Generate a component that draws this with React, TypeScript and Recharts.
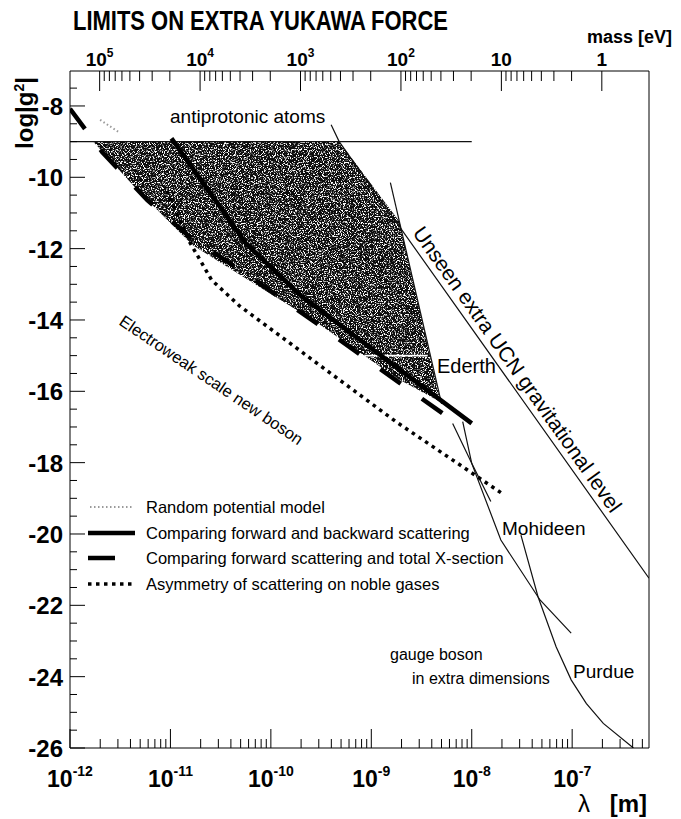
import React from 'react';
import { ScatterChart, Scatter, XAxis, YAxis } from 'recharts';

const FONT = '"Liberation Sans", Arial, Helvetica, sans-serif';

const CHART_W = 681;
const CHART_H = 819;

// x is log10(lambda / m), y is log|g^2|
const LAM_RANGE: [number, number] = [-12, -6.235];
const G_RANGE: [number, number] = [-26, -7.02];
const LG_HBARC = Math.log10(1.9733e-7); // hbar*c in eV*m, for the mass axis

const LAM_DECADES = [-12, -11, -10, -9, -8, -7];
const MASS_DECADES = [5, 4, 3, 2, 1, 0];
const G_STEP = 0.5;

// shaded "random potential model" region, outline
const randomLam = [-11.77, -9.32, -8.72, -8.31, -8.75, -9.55, -10.16, -10.78, -11.31];
const randomG = [-9.0, -9.0, -11.24, -16.3, -15.63, -14.06, -12.99, -11.9, -10.41];

// faint trace of the same model above the -9 line
const randomTraceLam = [-11.7, -11.5];
const randomTraceG = [-8.39, -8.76];

// comparing forward and backward scattering
const fwdBackLam = [-10.99, -10.25, -9.71, -8.0];
const fwdBackG = [-8.91, -11.85, -13.3, -16.9];

// comparing forward scattering and total X-section
const fwdTotalLam = [-12.0, -11.68, -11.23, -10.83, -10.16, -9.55, -8.69, -8.17];
const fwdTotalG = [-8.08, -9.29, -10.64, -11.62, -12.88, -14.08, -15.82, -16.86];

// asymmetry of scattering on noble gases
const nobleLam = [-11.04, -10.81, -10.59, -10.31, -8.75, -7.71];
const nobleG = [-10.38, -11.81, -12.88, -13.61, -16.86, -18.84];

const antiprotonicLam = [-12, -8.0];
const antiprotonicG = [-9, -9];

// unseen extra UCN level, starts at the leader of the antiprotonic label
const ucnLam = [-9.4, -9.32, -6.235];
const ucnG = [-8.53, -9.0, -21.24];

const edgeLam = [-8.81, -8.3];
const edgeG = [-10.15, -16.35];

const ederthLam = [-9.07, -8.44];
const ederthG = [-15.0, -15.0];

const mohideenLam = [-8.09, -8.0, -7.71, -7.32, -7.01];
const mohideenG = [-16.85, -18.02, -20.17, -21.85, -22.78];

const mohideenBLam = [-8.19, -8.0, -7.81];
const mohideenBG = [-16.9, -18.02, -19.09];

const purdueLam = [-7.51, -7.34, -7.16, -7.01, -6.86, -6.69, -6.39];
const purdueG = [-20.03, -21.76, -23.16, -24.09, -24.75, -25.31, -26.0];

const LEGEND = [
  'Random potential model',
  'Comparing forward and backward scattering',
  'Comparing forward scattering and total X-section',
  'Asymmetry of scattering on noble gases',
];
const LEGEND_Y = [507, 533, 558, 584];

const pts = (lam: number[], g: number[]) => lam.map((l, i) => ({ lam: l, g: g[i] }));

const isWhole = (v: number) => Math.abs(v - Math.round(v)) < 1e-6;

const lamTicks: number[] = [];
LAM_DECADES.forEach((d) => {
  for (let k = 1; k <= 9; k++) {
    const v = d + Math.log10(k);
    if (v <= LAM_RANGE[1]) lamTicks.push(v);
  }
});

const massTicks: number[] = [];
MASS_DECADES.forEach((e) => {
  for (let k = 1; k <= 9; k++) {
    const v = LG_HBARC - e - Math.log10(k);
    if (v >= LAM_RANGE[0] && v <= LAM_RANGE[1]) massTicks.push(v);
  }
});

const gTicks: number[] = [];
for (let v = G_RANGE[0]; v < G_RANGE[1]; v += G_STEP) gTicks.push(v);

const BottomTick = ({ x, y, payload }: any) => {
  const v: number = payload.value;
  const major = isWhole(v);
  return (
    <g>
      <line x1={x} x2={x} y1={y} y2={y - (major ? 19 : 9)} stroke="#000" />
      {major && (
        <text x={x} y={y + 39} textAnchor="middle" fontFamily={FONT} fontWeight="bold" fontSize={23} fill="#000">
          10<tspan dy={-11} fontSize={14}>{Math.round(v)}</tspan>
        </text>
      )}
    </g>
  );
};

const TopTick = ({ x, y, payload }: any) => {
  const lgMass = LG_HBARC - payload.value;
  const major = isWhole(lgMass);
  const e = Math.round(lgMass);
  return (
    <g>
      <line x1={x} x2={x} y1={y} y2={y + (major ? 20 : 10)} stroke="#000" />
      {major && (
        <text x={x} y={y - 5} textAnchor="middle" fontFamily={FONT} fontWeight="bold" fontSize={19} fill="#000">
          {e >= 2 ? (
            <>
              10<tspan dy={-9} fontSize={12}>{e}</tspan>
            </>
          ) : e === 1 ? '10' : '1'}
        </text>
      )}
    </g>
  );
};

const LeftTick = ({ x, y, payload }: any) => {
  const v: number = payload.value;
  const major = isWhole(v) && Math.round(v) % 2 === 0;
  return (
    <g>
      <line x1={x} x2={x + (major ? 15 : 7)} y1={y} y2={y} stroke="#000" />
      {major && (
        <text x={x - 7} y={y + 9} textAnchor="end" fontFamily={FONT} fontWeight="bold" fontSize={24} fill="#000">
          {v}
        </text>
      )}
    </g>
  );
};

const noPoint = () => <g />;

// filled outline drawn with a grainy texture
const grainyRegion = (props: any) => {
  const p = props.points as { x: number; y: number }[];
  if (!p || !p.length) return <g />;
  const d = 'M' + p.map((q) => `${q.x},${q.y}`).join('L') + 'Z';
  return <path d={d} fill="#111" stroke="none" filter="url(#grain)" />;
};

const thinSeries = [
  { key: 'ucn', data: pts(ucnLam, ucnG) },
  { key: 'edge', data: pts(edgeLam, edgeG) },
  { key: 'mohideen', data: pts(mohideenLam, mohideenG) },
  { key: 'mohideenB', data: pts(mohideenBLam, mohideenBG) },
  { key: 'purdue', data: pts(purdueLam, purdueG) },
];

const axisLine = { stroke: '#000', strokeWidth: 1 };
const thinLine = { stroke: '#111', strokeWidth: 1.2 };

export default function App() {
  return (
    <div style={{ position: 'absolute', left: 0, top: 0, width: CHART_W, height: CHART_H, background: '#fff' }}>
      <ScatterChart width={CHART_W} height={CHART_H} margin={{ top: 0, right: 0, bottom: 0, left: 0 }}>
        <XAxis
          xAxisId="lam"
          dataKey="lam"
          type="number"
          domain={LAM_RANGE}
          allowDataOverflow
          ticks={lamTicks}
          interval={0}
          tick={BottomTick}
          tickLine={false}
          tickSize={0}
          tickMargin={0}
          axisLine={axisLine}
          height={71}
        />
        <XAxis
          xAxisId="mass"
          dataKey="lam"
          orientation="top"
          type="number"
          domain={LAM_RANGE}
          allowDataOverflow
          ticks={massTicks}
          interval={0}
          tick={TopTick}
          tickLine={false}
          tickSize={0}
          tickMargin={0}
          axisLine={axisLine}
          height={71}
        />
        <YAxis
          yAxisId="g"
          dataKey="g"
          type="number"
          domain={G_RANGE}
          allowDataOverflow
          ticks={gTicks}
          interval={0}
          tick={LeftTick}
          tickLine={false}
          tickSize={0}
          tickMargin={0}
          axisLine={axisLine}
          width={70}
        />
        <YAxis
          yAxisId="right"
          dataKey="g"
          orientation="right"
          type="number"
          domain={G_RANGE}
          allowDataOverflow
          tick={false}
          tickLine={false}
          axisLine={axisLine}
          width={32}
        />

        <Scatter
          xAxisId="lam"
          yAxisId="g"
          data={pts(randomLam, randomG)}
          shape={noPoint}
          line={grainyRegion}
          lineType="joint"
          isAnimationActive={false}
        />
        <Scatter
          xAxisId="lam"
          yAxisId="g"
          data={pts(randomTraceLam, randomTraceG)}
          shape={noPoint}
          line={{ stroke: '#9a9a9a', strokeWidth: 2, strokeDasharray: '1.5 2.5' }}
          lineType="joint"
          isAnimationActive={false}
        />
        {/* the antiprotonic limit sits on the mass axis so that axis has data */}
        <Scatter
          xAxisId="mass"
          yAxisId="right"
          data={pts(antiprotonicLam, antiprotonicG)}
          shape={noPoint}
          line={thinLine}
          lineType="joint"
          isAnimationActive={false}
        />
        {thinSeries.map((s) => (
          <Scatter
            key={s.key}
            xAxisId="lam"
            yAxisId="g"
            data={s.data}
            shape={noPoint}
            line={thinLine}
            lineType="joint"
            isAnimationActive={false}
          />
        ))}
        <Scatter
          xAxisId="lam"
          yAxisId="g"
          data={pts(ederthLam, ederthG)}
          shape={noPoint}
          line={{ stroke: '#fff', strokeWidth: 1.6 }}
          lineType="joint"
          isAnimationActive={false}
        />
        <Scatter
          xAxisId="lam"
          yAxisId="g"
          data={pts(fwdTotalLam, fwdTotalG)}
          shape={noPoint}
          line={{ stroke: '#000', strokeWidth: 4.5, strokeDasharray: '25 26' }}
          lineType="joint"
          isAnimationActive={false}
        />
        <Scatter
          xAxisId="lam"
          yAxisId="g"
          data={pts(fwdBackLam, fwdBackG)}
          shape={noPoint}
          line={{ stroke: '#000', strokeWidth: 4.5 }}
          lineType="joint"
          isAnimationActive={false}
        />
        <Scatter
          xAxisId="lam"
          yAxisId="g"
          data={pts(nobleLam, nobleG)}
          shape={noPoint}
          line={{ stroke: '#000', strokeWidth: 3.5, strokeDasharray: '3.5 4.5' }}
          lineType="joint"
          isAnimationActive={false}
        />
      </ScatterChart>

      <svg
        width={CHART_W}
        height={CHART_H}
        style={{ position: 'absolute', left: 0, top: 0, pointerEvents: 'none' }}
        fontFamily={FONT}
      >
        <defs>
          <filter id="grain" x="0" y="0" width="1" height="1">
            <feTurbulence type="fractalNoise" baseFrequency="0.85" numOctaves={3} seed={7} result="noise" />
            <feColorMatrix
              in="noise"
              type="matrix"
              values="0 0 0 0 0  0 0 0 0 0  0 0 0 0 0  -7 0 0 0 4.6"
              result="mask"
            />
            <feComposite in="SourceGraphic" in2="mask" operator="in" />
          </filter>
        </defs>

        <text x={73} y={30} fontWeight="bold" fontSize={27} textLength={375} lengthAdjust="spacingAndGlyphs">
          LIMITS ON EXTRA YUKAWA FORCE
        </text>
        <text x={672} y={43} textAnchor="end" fontWeight="bold" fontSize={18}>
          mass [eV]
        </text>
        <text transform="translate(33,113) rotate(-90)" textAnchor="middle" fontWeight="bold" fontSize={24}>
          log|g<tspan dy={-9} fontSize={14}>2</tspan>
          <tspan dy={9}>|</tspan>
        </text>
        <text x={578} y={812} fontSize={24}>λ</text>
        <text x={647} y={812} textAnchor="end" fontWeight="bold" fontSize={24}>
          [m]
        </text>

        <text x={170} y={123} fontSize={19}>antiprotonic atoms</text>
        <text transform="translate(412,233) rotate(54.7)" fontSize={21}>
          Unseen extra UCN gravitational level
        </text>
        <text x={437} y={373} fontSize={20}>Ederth</text>
        <text transform="translate(118,324) rotate(34)" fontSize={16.5}>
          Electroweak scale new boson
        </text>
        <text x={502} y={535} fontSize={19}>Mohideen</text>
        <text x={573} y={678} fontSize={19}>Purdue</text>
        <text x={390} y={660} fontSize={16}>gauge boson</text>
        <text x={412} y={684} fontSize={16}>in extra dimensions</text>

        <g>
          <line x1={90} x2={133} y1={LEGEND_Y[0]} y2={LEGEND_Y[0]} stroke="#9a9a9a" strokeWidth={2} strokeDasharray="1.5 2.5" />
          <line x1={88} x2={135} y1={LEGEND_Y[1]} y2={LEGEND_Y[1]} stroke="#000" strokeWidth={4.5} />
          <line x1={88} x2={115} y1={LEGEND_Y[2]} y2={LEGEND_Y[2]} stroke="#000" strokeWidth={4.5} />
          <line x1={88} x2={134} y1={LEGEND_Y[3]} y2={LEGEND_Y[3]} stroke="#000" strokeWidth={3.5} strokeDasharray="3.5 4.5" />
          {LEGEND.map((t, i) => (
            <text key={t} x={146} y={LEGEND_Y[i] + 6} fontSize={16.5}>
              {t}
            </text>
          ))}
        </g>
      </svg>
    </div>
  );
}
